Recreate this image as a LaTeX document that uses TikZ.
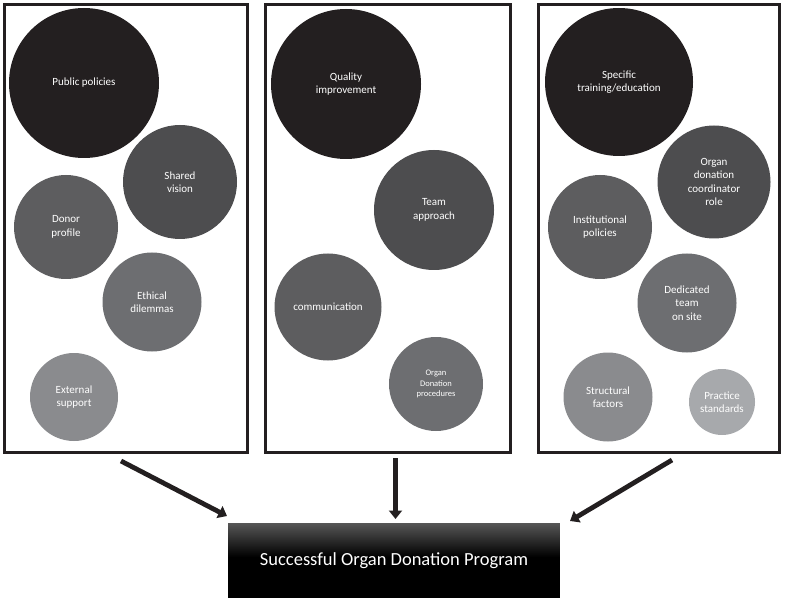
\documentclass[tikz,border=0pt]{standalone}
\usepackage{fontspec}
\setmainfont{Carlito}
\usetikzlibrary{arrows.meta}
\definecolor{cA}{HTML}{231F20}
\definecolor{cB}{HTML}{4D4D4F}
\definecolor{cC}{HTML}{5D5D5F}
\definecolor{cD}{HTML}{6D6E71}
\definecolor{cE}{HTML}{8A8B8E}
\definecolor{cF}{HTML}{A7A9AC}
\tikzset{
  bubble/.style={circle, inner sep=0pt, text=white, align=center,
    font=\fontsize{11}{13.5}\selectfont},
  panel/.style={draw=cA, line width=3pt},
  bigarrow/.style={draw=cA, line width=4.8pt, -{Triangle[width=13pt,length=8.5pt]}},
  resultbox/.style={minimum width=332pt, minimum height=75pt, inner sep=0pt,
    fill=black, text=white, font=\fontsize{18.5}{22}\selectfont,
    path picture={\foreach \i in {0,...,33}{
      \pgfmathtruncatemacro{\g}{66+\i}
      \fill[black!\g] ([yshift=-\i pt]path picture bounding box.north west)
        rectangle ([yshift=-\i pt-1.3pt]path picture bounding box.north east);}}},
}
\begin{document}
\begin{tikzpicture}[x=1pt,y=-1pt]
\useasboundingbox (0,0) rectangle (786,601);
% panels
\draw[panel] (4.5,4.5) rectangle (247.5,452.5);
\draw[panel] (265,4.5) rectangle (510.5,452.5);
\draw[panel] (538.5,4.5) rectangle (779.5,452.5);
% panel 1
\node[bubble, fill=cA, minimum size=150pt] (pp) at (84,83) {Public policies};
\node[bubble, fill=cB, minimum size=114pt] (sv) at (180,182) {Shared\\vision};
\node[bubble, fill=cC, minimum size=104pt] (dp) at (66,227) {Donor\\profile};
\node[bubble, fill=cD, minimum size=99pt] (ed) at (152,302) {Ethical\\dilemmas};
\node[bubble, fill=cE, minimum size=88pt] (es) at (74,397) {External\\support};
% panel 2
\node[bubble, fill=cA, minimum size=150pt] (qi) at (346,84) {Quality\\improvement};
\node[bubble, fill=cB, minimum size=120pt] (ta) at (434,210) {Team\\approach};
\node[bubble, fill=cC, minimum size=107pt] (co) at (328,307) {communication};
\node[bubble, fill=cD, minimum size=94pt,
  font=\fontsize{8.5}{10.5}\selectfont] (od) at (436,384) {Organ\\Donation\\procedures};
% panel 3
\node[bubble, fill=cA, minimum size=148pt] (st) at (619,82) {Specific\\training/education};
\node[bubble, fill=cB, minimum size=113pt] (oc) at (714,182) {Organ\\donation\\coordinator\\role};
\node[bubble, fill=cC, minimum size=104pt] (ip) at (600,227) {Institutional\\policies};
\node[bubble, fill=cD, minimum size=99pt] (dt) at (687,303) {Dedicated\\team\\on site};
\node[bubble, fill=cE, minimum size=89pt] (sf) at (608,397) {Structural\\factors};
\node[bubble, fill=cF, minimum size=66pt] (ps) at (722,402) {Practice\\standards};
% result box
\node[resultbox] (res) at (394,560.5) {Successful Organ Donation Program};
% arrows
\coordinate (a1) at (121,461);
\coordinate (b1) at (227,516);
\coordinate (a2) at (395.5,458);
\coordinate (b2) at (395.5,519);
\coordinate (a3) at (672,460);
\coordinate (b3) at (570,521);
\draw[bigarrow] (a1) -- (b1);
\draw[bigarrow] (a2) -- (b2);
\draw[bigarrow] (a3) -- (b3);
\end{tikzpicture}
\end{document}
